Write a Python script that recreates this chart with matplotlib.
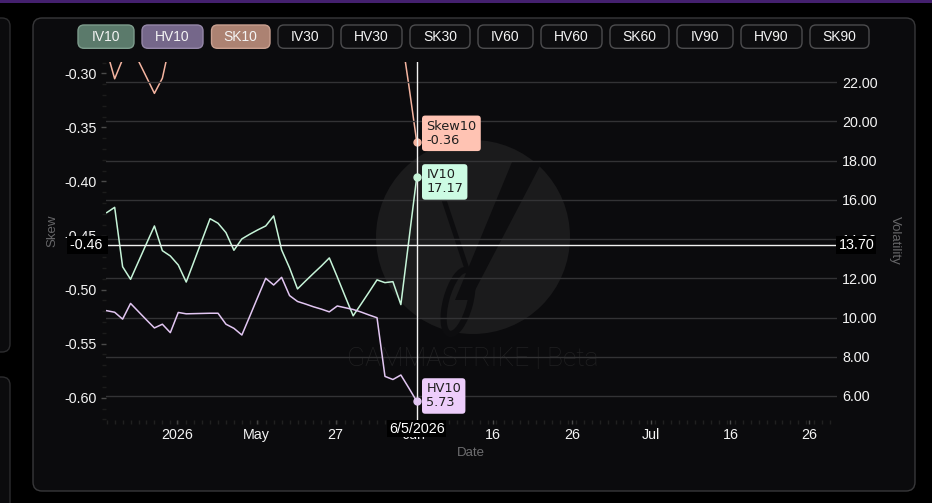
import numpy as np
import matplotlib
matplotlib.use("Agg")
import matplotlib.pyplot as plt
from matplotlib.patches import FancyBboxPatch, Circle, Rectangle, Polygon, Ellipse
from matplotlib.transforms import IdentityTransform, blended_transform_factory
from matplotlib.ticker import MultipleLocator, FormatStrFormatter
from matplotlib.lines import Line2D

plt.rcParams['font.family'] = ['Liberation Sans', 'DejaVu Sans']

W, H = 932, 503

# daily series (index = trading day)
iv10 = [15.35, 15.62, 12.59, 11.95, 12.86, 13.77, 14.67, 13.41, 13.14, 12.68,
        11.81, 12.88, 13.96, 15.04, 14.81, 14.33, 13.43, 14.01, 14.25, 14.47,
        14.67, 15.18, 13.45, 12.53, 11.46, 11.86, 12.25, 12.63, 13.04, 12.07,
        11.07, 10.09, 10.69, 11.30, 11.92, 11.78, 11.83, 10.66, 13.92, 17.17]
hv10 = [10.35, 10.27, 9.92, 10.72, 10.30, 9.88, 9.47, 9.66, 9.23, 10.26,
        10.19, 10.20, 10.21, 10.22, 10.22, 9.66, 9.45, 9.11, 10.07, 11.04,
        12.00, 11.66, 12.05, 11.12, 10.82, 10.69, 10.55, 10.43, 10.29, 10.59,
        10.50, 10.41, 10.28, 10.13, 9.99, 7.00, 6.84, 7.07, 6.41, 5.73]
sk10 = [-0.279, -0.305, -0.287, -0.270, -0.2886, -0.3035, -0.3185, -0.3045, -0.271, -0.255,
        -0.248, -0.262, -0.240, -0.236, -0.251, -0.244, -0.230, -0.238, -0.226, -0.219,
        -0.233, -0.241, -0.228, -0.222, -0.235, -0.246, -0.239, -0.231, -0.227, -0.243,
        -0.250, -0.238, -0.232, -0.245, -0.249, -0.256, -0.258, -0.261, -0.311, -0.3635]

date_ticks = [8.9, 18.85, 28.8, 38.7, 48.6, 58.55, 68.5, 78.45, 88.4]
date_labels = ['2026', 'May', '27', 'Jun', '16', '26', 'Jul', '16', '26']
skew_ticks = [-0.60, -0.55, -0.50, -0.45, -0.40, -0.35, -0.30]
vol_ticks = [6, 8, 10, 12, 14, 16, 18, 20, 22]

buttons = ['IV10', 'HV10', 'SK10', 'IV30', 'HV30', 'SK30',
           'IV60', 'HV60', 'SK60', 'IV90', 'HV90', 'SK90']
btn_x = [78, 142, 211.5, 278, 341, 410, 478, 541, 610, 677, 741, 810]
btn_w = [56, 61, 58.5, 55, 61, 60, 55, 61, 59, 56, 61, 59]

iv_col, hv_col, sk_col = '#c6f4d8', '#e2c6f2', '#f4b4a0'
iv_box, hv_box, sk_box = '#ccfbe3', '#edcdfb', '#ffc3b3'

hover_idx = 39
cross_skew, cross_vol, cross_date = '-0.46', 13.70, '6/5/2026'

fig = plt.figure(figsize=(W / 100, H / 100), dpi=100)
fig.patch.set_facecolor('#000000')
disp = IdentityTransform()

def pbox(x, y, w, h, fc, ec, r=6, z=-5, lw=1.0):
    p = FancyBboxPatch((x, H - y - h), w, h, boxstyle=f'round,pad=0,rounding_size={r}',
                       fc=fc, ec=ec, lw=lw, transform=disp, zorder=z)
    fig.patches.append(p)

# page background bits
fig.patches.append(Rectangle((0, H - 3), W, 3, fc='#44206e', ec='none', transform=disp, zorder=-6))
pbox(-20, 18, 30, 334, '#0b0b0d', '#2c2c2e', r=8)
pbox(-20, 377, 30, 150, '#0b0b0d', '#2c2c2e', r=8)
pbox(33, 18, 882, 473, '#0b0b0d', '#38383a', r=9)

# watermark
fig.patches.append(Circle((473, H - 237), 97, fc='#1b1b1c', ec='none', transform=disp, zorder=-4))
fig.patches.append(Polygon([(512, H - 162), (542, H - 162), (470, H - 300), (455, H - 300)],
                           closed=True, fc='#0d0d0f', ec='none', transform=disp, zorder=-3))
fig.lines.append(Line2D([440, 466], [H - 188, H - 266], color='#0d0d0f', lw=3.5, transform=disp, zorder=-3))
fig.patches.append(Ellipse((458, H - 302), 24, 66, angle=-15, fc='none', ec='#0d0d0f', lw=4.5,
                           transform=disp, zorder=-3))
fig.text(473 / W, 1 - 359 / H, 'GAMMASTRIKE | Beta', color='#202021', fontsize=19,
         family='Roboto', weight='light', ha='center', va='center', zorder=-3)

# legend buttons
for i, name in enumerate(buttons):
    if i == 0:
        fc, ec = '#5b7a6b', '#7d9c8c'
    elif i == 1:
        fc, ec = '#75678a', '#9587a8'
    elif i == 2:
        fc, ec = '#ac8272', '#c9a090'
    else:
        fc, ec = '#0d0d0f', '#4c4c4e'
    pbox(btn_x[i], 25, btn_w[i], 23.3, fc, ec, r=6, z=-2)
    fig.text((btn_x[i] + btn_w[i] / 2) / W, 1 - 36.8 / H, name, color='#f4f4f4',
             fontsize=10, ha='center', va='center')

l, r, b, t = 106 / W, 837 / W, 1 - 420 / H, 1 - 62 / H
ax = fig.add_axes([l, b, r - l, t - b])
ax2 = ax.twinx()
for a in (ax, ax2):
    a.set_facecolor('none')
    for s in a.spines.values():
        s.set_visible(False)

x = np.arange(len(iv10))
ax.plot(x, sk10, color=sk_col, lw=1.1, zorder=3)
ax2.plot(x, iv10, color=iv_col, lw=1.1, zorder=3)
ax2.plot(x, hv10, color=hv_col, lw=1.1, zorder=3)

ax.set_xlim(-0.09, 91.86)
ax.set_ylim(-0.6206, -0.2895)
ax2.set_ylim(4.776, 23.03)

ax.set_xticks(date_ticks)
ax.set_xticklabels(date_labels)
ax.xaxis.set_minor_locator(MultipleLocator(1))
ax.tick_params(axis='x', which='major', colors='#4a4a4a', labelcolor='#f4f4f4',
               labelsize=10.3, length=3, width=1, pad=2.5)
ax.tick_params(axis='x', which='minor', colors='#202020', length=3, width=1)

ax.set_yticks(skew_ticks)
ax.yaxis.set_major_formatter(FormatStrFormatter('%.2f'))
ax.yaxis.set_minor_locator(MultipleLocator(0.01))
ax.tick_params(axis='y', which='major', colors='#4a4a4a', labelcolor='#f4f4f4',
               labelsize=10.3, length=3.6, width=1, pad=3)
ax.tick_params(axis='y', which='minor', colors='#1c1c1c', length=3, width=1)

ax2.set_yticks(vol_ticks)
ax2.yaxis.set_major_formatter(FormatStrFormatter('%.2f'))
ax2.tick_params(axis='y', colors='#f4f4f4', labelsize=10.3, length=0, pad=3.6)
ax2.grid(axis='y', color='#333335', lw=1)
ax2.set_axisbelow(True)

fig.text(52 / W, 1 - 231 / H, 'Skew', rotation=90, color='#666668', fontsize=9.5, ha='center', va='center')
fig.text(895 / W, 1 - 240 / H, 'Volatility', rotation=270, color='#666668', fontsize=9.5, ha='center', va='center')
fig.text(471 / W, 1 - 453 / H, 'Date', color='#6e6e70', fontsize=9.5, ha='center', va='center')

# crosshair
ax2.axvline(hover_idx, color='#f2f2f2', lw=1, zorder=4)
ax2.axhline(cross_vol, color='#f2f2f2', lw=1, zorder=4)
tr_l = blended_transform_factory(ax2.transAxes, ax2.transData)
ax2.text(0, cross_vol, cross_skew + ' ', transform=tr_l, ha='right', va='center', color='#ffffff',
         fontsize=10.3, zorder=6, bbox=dict(fc='#000000', ec='none', pad=1.5))
ax2.text(1.002, cross_vol, '%.2f' % cross_vol, transform=tr_l, ha='left', va='center', color='#ffffff',
         fontsize=10.3, zorder=6, bbox=dict(fc='#000000', ec='none', pad=1.5))
tr_b = blended_transform_factory(ax2.transData, ax2.transAxes)
ax2.text(hover_idx, -0.005, cross_date, transform=tr_b, ha='center', va='top', color='#ffffff',
         fontsize=10.3, zorder=6, bbox=dict(fc='#000000', ec='none', pad=1.0))

# hover dots and tooltips
ax.plot(hover_idx, sk10[hover_idx], 'o', color=sk_col, ms=5, zorder=5)
ax2.plot(hover_idx, iv10[hover_idx], 'o', color=iv_col, ms=5, zorder=5)
ax2.plot(hover_idx, hv10[hover_idx], 'o', color=hv_col, ms=5, zorder=5)

tips = [(ax.transData, sk10[hover_idx], 'Skew10\n%.2f' % sk10[hover_idx], sk_box, 8.7),
        (ax2.transData, iv10[hover_idx], 'IV10\n%.2f' % iv10[hover_idx], iv_box, -5),
        (ax2.transData, hv10[hover_idx], 'HV10\n%.2f' % hv10[hover_idx], hv_box, 5.3)]
for trans, yv, txt, fc, dy in tips:
    ax2.annotate(txt, xy=(hover_idx, yv), xycoords=trans, xytext=(9.5, dy),
                 textcoords='offset pixels', ha='left', va='center', color='#1e1e1e',
                 fontsize=9.3, family='DejaVu Sans', linespacing=1.1, zorder=7, annotation_clip=False,
                 bbox=dict(boxstyle='round,pad=0.33,rounding_size=0.25', fc=fc, ec='none'))

fig.savefig('out.png', dpi=100, facecolor=fig.get_facecolor())
